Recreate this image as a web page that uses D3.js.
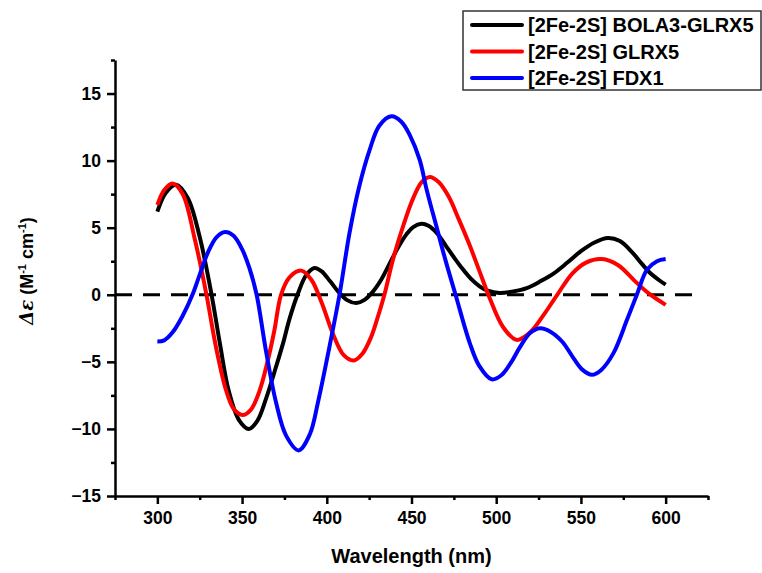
<!DOCTYPE html>
<html>
<head>
<meta charset="utf-8">
<script src="https://cdn.jsdelivr.net/npm/d3@7"></script>
<style>
  body { margin: 0; background: #fff; }
  text { font-family: "Liberation Sans", Arial, sans-serif; font-weight: bold; }
</style>
</head>
<body>
<div id="chart"></div>
<script>
// series
var seriesNames = ["[2Fe-2S] BOLA3-GLRX5", "[2Fe-2S] GLRX5", "[2Fe-2S] FDX1"];
var seriesColors = ["#000000", "#ff0000", "#0000ff"];

var wlBola = [300, 305, 311, 318, 325, 332, 337, 342, 348, 354, 359, 364, 369, 374, 378, 382.7, 388, 392.7, 397, 402, 407, 412, 417.4, 422, 427, 432, 437, 442, 447, 451, 455.9, 460, 465, 470, 475, 480, 485, 490, 495, 502, 510, 518, 526, 534, 542, 550, 558, 566, 573, 580, 586, 591, 596, 600];
var cdBola = [6.2, 7.6, 8.2, 7.2, 4.3, 0, -3.7, -7.1, -9.3, -10.0, -9.4, -7.8, -5.8, -3.7, -1.8, 0, 1.5, 2.0, 1.75, 1.0, 0.2, -0.4, -0.62, -0.4, 0.2, 1.1, 2.3, 3.5, 4.5, 5.05, 5.3, 5.15, 4.6, 3.7, 2.8, 1.95, 1.2, 0.65, 0.3, 0.13, 0.25, 0.5, 1.0, 1.6, 2.4, 3.25, 3.9, 4.23, 4.0, 3.2, 2.3, 1.6, 1.1, 0.75];

var wlGlrx = [300, 304, 309, 315, 322, 329, 334.6, 340.5, 345, 350.3, 355, 360.2, 365, 369, 373, 378, 385, 391, 397, 403.6, 410, 416, 421, 426, 430, 434, 439, 445, 451, 456, 460.8, 466, 472, 478, 484, 490, 496, 504, 512, 520, 528, 536, 545, 553, 562.4, 572, 582, 590, 600];
var cdGlrx = [6.7, 7.8, 8.3, 7.5, 4.2, 0, -3.9, -7.1, -8.5, -8.96, -8.6, -7.2, -5.0, -2.7, 0, 1.3, 1.8, 1.1, -0.6, -2.9, -4.5, -4.9, -4.4, -3.2, -1.7, 0, 2.6, 5.1, 7.2, 8.4, 8.78, 8.4, 7.3, 5.6, 3.8, 1.8, -0.2, -2.4, -3.36, -2.8, -1.5, 0, 1.6, 2.4, 2.66, 2.2, 1.0, 0.1, -0.75];

var wlFdx = [300, 304, 309, 314.8, 320.7, 325, 330, 335, 340, 345, 350, 354.3, 358.6, 364, 370, 376, 383.4, 390, 395, 401.6, 407.5, 413.4, 419, 425.3, 431, 438.1, 444, 449, 454.8, 459, 464.7, 470, 476, 484.4, 490, 497.3, 503, 509, 514, 520, 525.9, 532, 539, 546, 551, 556.5, 562, 569.2, 577.2, 583, 589, 594.9, 600];
var cdFdx = [-3.48, -3.4, -2.8, -1.6, 0, 1.5, 3.2, 4.3, 4.68, 4.4, 3.4, 2.0, 0, -4.1, -8.0, -10.5, -11.6, -10.4, -7.9, -3.86, 0, 4.6, 8.0, 10.8, 12.6, 13.3, 12.9, 11.9, 10.07, 7.8, 5.1, 2.6, 0, -3.6, -5.3, -6.3, -6.0, -5.0, -3.9, -2.85, -2.49, -2.75, -3.5, -4.8, -5.6, -5.97, -5.6, -4.35, -1.87, 0, 1.87, 2.5, 2.66];

var xMajorTicks = [300, 350, 400, 450, 500, 550, 600];
var xMinorTicks = [275, 325, 375, 425, 475, 525, 575, 625];
var yMajorTicks = [-15, -10, -5, 0, 5, 10, 15];
var yMinorTicks = [-12.5, -7.5, -2.5, 2.5, 7.5, 12.5, 17.5];

var W = 762, H = 573;
var plotLeft = 115, plotRight = 708, plotTop = 60, plotBottom = 496;

var svg = d3.select("#chart").append("svg").attr("width", W).attr("height", H);

var x = d3.scaleLinear().domain([275, 625]).range([plotLeft, plotRight]);
var y = d3.scaleLinear().domain([-15, 17.5]).range([plotBottom, plotTop]);

// zero line
svg.append("line")
  .attr("x1", x(275)).attr("x2", x(617))
  .attr("y1", y(0)).attr("y2", y(0))
  .style("stroke", "#000").style("stroke-width", "3px")
  .style("stroke-dasharray", "17,11");

var curve = d3.line()
  .x(function(d) { return x(d[0]); })
  .y(function(d) { return y(d[1]); })
  .curve(d3.curveCatmullRom.alpha(0.5));

var allSeries = [d3.zip(wlBola, cdBola), d3.zip(wlGlrx, cdGlrx), d3.zip(wlFdx, cdFdx)];
allSeries.forEach(function(s, i) {
  svg.append("path")
    .attr("d", curve(s))
    .style("fill", "none")
    .style("stroke", seriesColors[i])
    .style("stroke-width", "4px")
    .style("stroke-linejoin", "round");
});

// axes
function styleAxis(g) {
  g.selectAll("path,line").style("stroke", "#000").style("stroke-width", "2.5px");
  g.selectAll("text").style("font-size", "17.5px").style("fill", "#000");
}

var xa = svg.append("g").attr("transform", "translate(0," + plotBottom + ")")
  .call(d3.axisBottom(x).tickValues(xMajorTicks).tickSizeInner(8).tickSizeOuter(0).tickPadding(8));
svg.append("g").attr("transform", "translate(0," + plotBottom + ")")
  .call(d3.axisBottom(x).tickValues(xMinorTicks).tickSize(4).tickFormat(""))
  .call(styleAxis).select(".domain").remove();
styleAxis(xa);

var ya = svg.append("g").attr("transform", "translate(" + plotLeft + ",0)")
  .call(d3.axisLeft(y).tickValues(yMajorTicks).tickSizeInner(8).tickSizeOuter(0).tickPadding(6));
svg.append("g").attr("transform", "translate(" + plotLeft + ",0)")
  .call(d3.axisLeft(y).tickValues(yMinorTicks).tickSize(4).tickFormat(""))
  .call(styleAxis).select(".domain").remove();
styleAxis(ya);

// axis titles
svg.append("text")
  .attr("x", (plotLeft + plotRight) / 2).attr("y", 563)
  .attr("text-anchor", "middle")
  .style("font-size", "20px")
  .text("Wavelength (nm)");

var yt = svg.append("text")
  .attr("transform", "translate(33,271) rotate(-90)")
  .attr("text-anchor", "middle")
  .style("font-size", "18px");
yt.append("tspan").style("font-family", "'DejaVu Serif', serif").style("font-style", "italic").text("Δε");
yt.append("tspan").text(" (M");
yt.append("tspan").attr("dy", -7).style("font-size", "11px").text("-1");
yt.append("tspan").attr("dy", 7).text(" cm");
yt.append("tspan").attr("dy", -7).style("font-size", "11px").text("-1");
yt.append("tspan").attr("dy", 7).text(")");

// legend
svg.append("rect")
  .attr("x", 463).attr("y", 11).attr("width", 298).attr("height", 79)
  .style("fill", "#fff").style("stroke", "#333").style("stroke-width", "1.5px");

var legendRows = [25, 51.5, 78];
seriesNames.forEach(function(name, i) {
  svg.append("line")
    .attr("x1", 472).attr("x2", 522)
    .attr("y1", legendRows[i]).attr("y2", legendRows[i])
    .style("stroke", seriesColors[i]).style("stroke-width", "4px")
    .style("stroke-linecap", "round");
  svg.append("text")
    .attr("x", 528).attr("y", legendRows[i] + 7)
    .style("font-size", "20px")
    .text(name);
});
</script>
</body>
</html>
